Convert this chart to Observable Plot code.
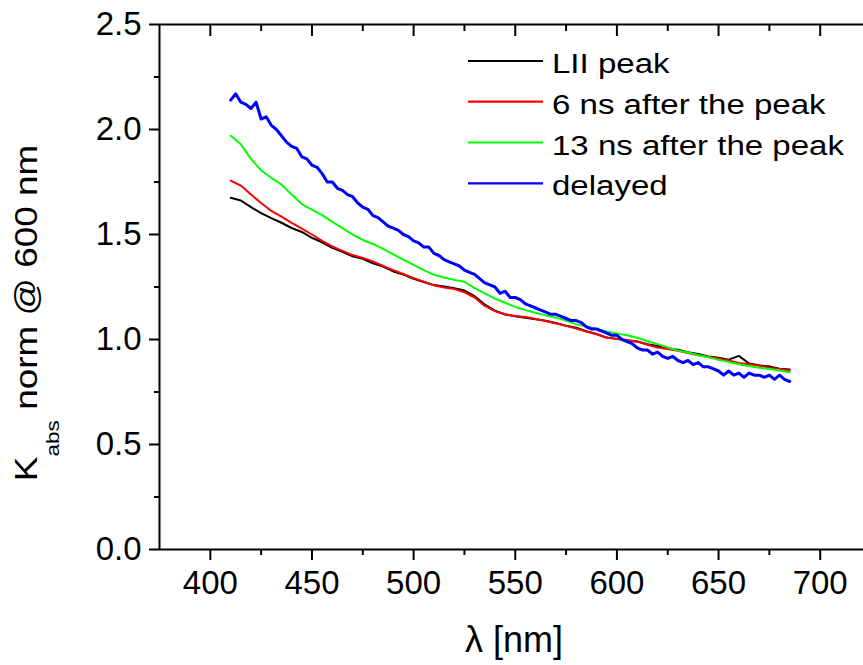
<!DOCTYPE html>
<html><head><meta charset="utf-8">
<script src="https://cdn.jsdelivr.net/npm/d3@7"></script>
<script src="https://cdn.jsdelivr.net/npm/@observablehq/plot@0.6"></script>
<style>
html,body{margin:0;padding:0;background:#fff;overflow:hidden}
#chart{position:relative;width:863px;height:665px}
</style></head><body><div id="chart"></div>
<script>
// ---- data ----
const wavelengthsMain = [410,415,420,425,430,435,440,445,450,455,460,465,470,475,480,485,490,495,500,505,510,515,520,525,530,535,540,545,550,555,560,565,570,575,580,585,590,595,600,605,610,615,620,625,630,635,640,645,650,655,660,665,670,675,680,685];
const lIIPeak = [1.675,1.662,1.630,1.602,1.578,1.556,1.531,1.512,1.484,1.463,1.436,1.417,1.396,1.384,1.363,1.347,1.324,1.309,1.289,1.274,1.259,1.253,1.244,1.233,1.206,1.166,1.137,1.119,1.111,1.104,1.096,1.089,1.079,1.065,1.056,1.039,1.026,1.009,1.003,0.994,0.991,0.977,0.969,0.957,0.951,0.939,0.931,0.919,0.913,0.904,0.922,0.886,0.877,0.871,0.861,0.857];
const ns6AfterPeak = [1.757,1.733,1.690,1.650,1.612,1.585,1.555,1.528,1.500,1.470,1.443,1.422,1.402,1.388,1.372,1.350,1.330,1.312,1.292,1.275,1.258,1.248,1.240,1.225,1.200,1.160,1.135,1.120,1.112,1.107,1.098,1.088,1.076,1.065,1.052,1.038,1.025,1.008,1.003,0.998,0.990,0.975,0.962,0.955,0.946,0.936,0.925,0.917,0.910,0.900,0.888,0.882,0.875,0.866,0.860,0.852];
const ns13AfterPeak = [1.970,1.930,1.860,1.805,1.770,1.738,1.690,1.645,1.618,1.592,1.560,1.530,1.500,1.474,1.455,1.432,1.405,1.380,1.355,1.330,1.308,1.295,1.284,1.275,1.245,1.220,1.195,1.175,1.155,1.140,1.127,1.115,1.104,1.090,1.072,1.062,1.050,1.038,1.028,1.020,1.008,0.992,0.978,0.962,0.948,0.938,0.926,0.915,0.903,0.893,0.882,0.874,0.866,0.860,0.852,0.844];
const wavelengthsDelayed = [410,412.5,415,417.5,420,422.5,425,427.5,430,432.5,435,437.5,440,442.5,445,447.5,450,452.5,455,457.5,460,462.5,465,467.5,470,472.5,475,477.5,480,482.5,485,487.5,490,492.5,495,497.5,500,502.5,505,507.5,510,512.5,515,517.5,520,522.5,525,527.5,530,532.5,535,537.5,540,542.5,545,547.5,550,552.5,555,557.5,560,562.5,565,567.5,570,572.5,575,577.5,580,582.5,585,587.5,590,592.5,595,597.5,600,602.5,605,607.5,610,612.5,615,617.5,620,622.5,625,627.5,630,632.5,635,637.5,640,642.5,645,647.5,650,652.5,655,657.5,660,662.5,665,667.5,670,672.5,675,677.5,680,682.5,685];
const delayed = [2.14,2.17,2.13,2.12,2.10,2.13,2.05,2.06,2.02,2.00,1.97,1.94,1.92,1.91,1.87,1.86,1.83,1.82,1.79,1.75,1.75,1.72,1.71,1.69,1.68,1.65,1.63,1.62,1.59,1.58,1.56,1.54,1.53,1.52,1.50,1.49,1.47,1.46,1.44,1.44,1.41,1.40,1.38,1.37,1.36,1.35,1.33,1.32,1.31,1.29,1.27,1.26,1.25,1.22,1.23,1.20,1.20,1.19,1.17,1.16,1.15,1.14,1.13,1.12,1.12,1.11,1.10,1.09,1.09,1.08,1.06,1.05,1.05,1.04,1.03,1.02,1.02,1.00,0.99,0.98,0.96,0.95,0.95,0.93,0.94,0.92,0.91,0.92,0.90,0.89,0.90,0.88,0.89,0.87,0.87,0.86,0.85,0.83,0.85,0.83,0.84,0.82,0.84,0.83,0.83,0.82,0.83,0.81,0.83,0.81,0.80];

const seriesNames = ["LII peak", "6 ns after the peak", "13 ns after the peak", "delayed"];
const seriesColors = ["#000000", "#ff0000", "#00ff00", "#0000ff"];
const xMajorTicks = [400, 450, 500, 550, 600, 650, 700];
const xMinorTicks = [425, 475, 525, 575, 625, 675];
const yMajorTicks = [0, 0.5, 1.0, 1.5, 2.0, 2.5];
const yMinorTicks = [0.25, 0.75, 1.25, 1.75, 2.25];
const xLabel = "λ [nm]";
const yLabelMain = "K", yLabelSub = "abs", yLabelRest = " norm @ 600 nm";

// ---- tables ----
const toRows = (xs, ys, name) => xs.map((x, i) => ({lambda: x, value: ys[i], series: name}));
const rowsBlack = toRows(wavelengthsMain, lIIPeak, seriesNames[0]);
const rowsRed = toRows(wavelengthsMain, ns6AfterPeak, seriesNames[1]);
const rowsGreen = toRows(wavelengthsMain, ns13AfterPeak, seriesNames[2]);
const rowsBlue = toRows(wavelengthsDelayed, delayed, seriesNames[3]);

const font = "'Liberation Sans', Arial, Helvetica, sans-serif";
const blank = () => "";

const chart = Plot.plot({
  width: 863, height: 665,
  marginLeft: 159, marginRight: 0, marginTop: 24, marginBottom: 116,
  x: {domain: [375, 721.3], label: null},
  y: {domain: [0, 2.5], label: null},
  color: {domain: seriesNames, range: seriesColors},
  style: {fontFamily: font, color: "#000", background: "#fff", overflow: "visible"},
  marks: [
    Plot.line(rowsBlack, {x: "lambda", y: "value", stroke: "series", strokeWidth: 2}),
    Plot.line(rowsRed, {x: "lambda", y: "value", stroke: "series", strokeWidth: 2}),
    Plot.line(rowsGreen, {x: "lambda", y: "value", stroke: "series", strokeWidth: 2}),
    Plot.line(rowsBlue, {x: "lambda", y: "value", stroke: "series", strokeWidth: 3}),
    Plot.axisX({ticks: xMajorTicks, tickSize: 11, tickPadding: 10, fontSize: 33, strokeWidth: 2, label: null, tickFormat: d3.format("d")}),
    Plot.axisX({ticks: xMinorTicks, tickSize: 6, strokeWidth: 2, label: null, tickFormat: blank}),
    // inward ticks along the top edge
    Plot.axisX({anchor: "top", ticks: xMajorTicks, tickSize: 11, dy: 11, strokeWidth: 2, stroke: "#000", label: null, tickFormat: blank}),
    Plot.axisX({anchor: "top", ticks: xMinorTicks, tickSize: 6, dy: 6, strokeWidth: 2, stroke: "#000", label: null, tickFormat: blank}),
    Plot.axisY({ticks: yMajorTicks, tickSize: 10, tickPadding: 8, fontSize: 33, strokeWidth: 2, label: null, tickFormat: d3.format(".1f")}),
    Plot.axisY({ticks: yMinorTicks, tickSize: 5, strokeWidth: 2, label: null, tickFormat: blank}),
    Plot.ruleX([375], {strokeWidth: 2}),
    Plot.ruleY([0, 2.5], {strokeWidth: 2})
  ]
});
document.getElementById("chart").appendChild(chart);

// ---- legend, axis titles ----
const svg = d3.select(chart);
const legend = svg.append("g").attr("font-family", font).attr("font-size", 28).attr("text-anchor", "start");
const legendY = [61, 101.7, 142.5, 183.3];
seriesNames.forEach((name, i) => {
  legend.append("line").attr("x1", 468).attr("x2", 543).attr("y1", legendY[i]).attr("y2", legendY[i])
    .attr("stroke", seriesColors[i]).attr("stroke-width", 2.2);
  legend.append("text").attr("text-anchor", "start")
    .attr("transform", `translate(552,${legendY[i] + 12}) scale(1.18,1)`)
    .attr("fill", "#000").text(name);
});

svg.append("text").attr("font-family", font).attr("font-size", 36)
  .attr("text-anchor", "middle").attr("x", 514).attr("y", 652).attr("fill", "#000").text(xLabel);

const yl = svg.append("text").attr("font-family", font).attr("font-size", 31)
  .attr("text-anchor", "middle").attr("fill", "#000")
  .attr("transform", "translate(37,313) rotate(-90) scale(1.19,1)");
yl.append("tspan").text(yLabelMain);
yl.append("tspan").attr("font-size", 19).attr("dy", 22).text(yLabelSub);
yl.append("tspan").attr("dy", -22).text(yLabelRest);
</script>
</body></html>
